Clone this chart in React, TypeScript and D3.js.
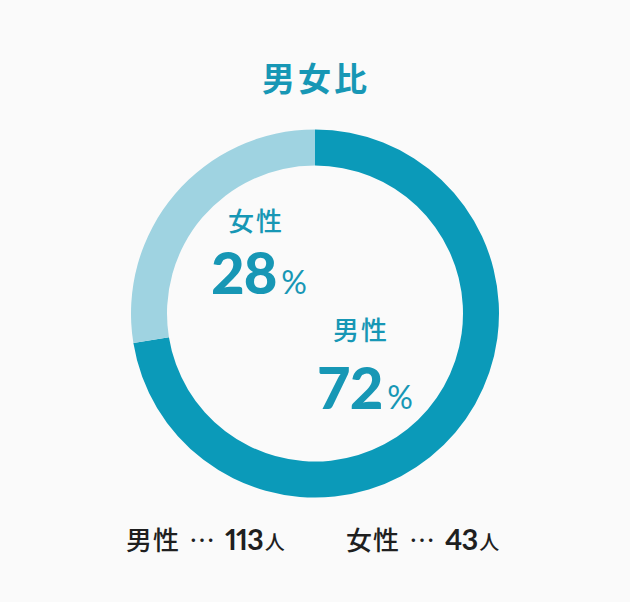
import React, { useEffect, useRef } from 'react';
import * as d3 from 'd3';

const categories = ['男性', '女性'];
const counts = [113, 43];
const percents = [72, 28];
const colors = ['#0b9ab9', '#9fd3e1'];
const title = '男女比';

const W = 630;
const H = 602;
const CJK = '"Noto Sans CJK JP", "Noto Sans", sans-serif';
const NUM = 'Lato, "Noto Sans", sans-serif';

export default function App() {
  const svgRef = useRef<SVGSVGElement>(null);

  useEffect(() => {
    if (!svgRef.current) return;
    const svg = d3.select(svgRef.current);
    svg.selectAll('*').remove();

    svg.append('rect').attr('width', W).attr('height', H).attr('fill', '#fafafa');

    // title
    svg.append('text')
      .attr('x', W / 2 + 1)
      .attr('y', 91)
      .attr('text-anchor', 'middle')
      .style('font-family', CJK)
      .style('font-size', '33px')
      .style('font-weight', 700)
      .style('letter-spacing', '3px')
      .style('fill', '#1797b5')
      .text(title);

    const cx = 315;
    const cy = 313.5;
    const outer = 184;
    const inner = 148;

    const pie = d3.pie<number>().sort(null).value(d => d);
    const arcs = pie(counts);
    const arc = d3.arc<d3.PieArcDatum<number>>().innerRadius(inner).outerRadius(outer);

    const g = svg.append('g').attr('transform', `translate(${cx},${cy})`);
    g.selectAll('path')
      .data(arcs)
      .enter()
      .append('path')
      .attr('d', arc)
      .attr('fill', (_, i) => colors[i]);

    // inner labels
    const labelPos = [
      { x: 333, y: 340, nx: 317, ny: 409 },
      { x: 228, y: 231, nx: 211, ny: 294 },
    ];
    categories.forEach((c, i) => {
      const p = labelPos[i];
      svg.append('text')
        .attr('x', p.x)
        .attr('y', p.y)
        .style('font-family', CJK)
        .style('font-size', '26px')
        .style('font-weight', 500)
        .style('letter-spacing', '2px')
        .style('fill', '#1797b5')
        .text(c);
      const t = svg.append('text')
        .attr('x', p.nx)
        .attr('y', p.ny)
        .style('fill', '#1797b5');
      t.append('tspan')
        .style('font-family', NUM)
        .style('font-size', '58px')
        .style('font-weight', 900)
        .style('letter-spacing', '-1px')
        .text(String(percents[i]));
      t.append('tspan')
        .attr('dx', 5)
        .style('font-family', NUM)
        .style('font-size', '32px')
        .style('font-weight', 400)
        .text('%');
    });

    // bottom legend
    const legendX = [126, 346];
    categories.forEach((c, i) => {
      const t = svg.append('text')
        .attr('x', legendX[i])
        .attr('y', 550)
        .style('fill', '#1f1f1f');
      t.append('tspan')
        .style('font-family', CJK)
        .style('font-size', '26px')
        .style('font-weight', 500)
        .style('letter-spacing', '1px')
        .text(c);
      t.append('tspan')
        .attr('dx', 9)
        .style('font-family', CJK)
        .style('font-size', '26px')
        .text('…');
      t.append('tspan')
        .attr('dx', 10)
        .style('font-family', NUM)
        .style('font-size', '29px')
        .style('font-weight', 700)
        .style('font-variant-numeric', 'proportional-nums')
        .style('font-feature-settings', '"pnum" 1')
        .style('letter-spacing', '-1px')
        .text(String(counts[i]));
      t.append('tspan')
        .attr('dx', 2)
        .style('font-family', CJK)
        .style('font-size', '20px')
        .style('font-weight', 500)
        .text('人');
    });
  }, []);

  return (
    <div style={{ position: 'absolute', left: 0, top: 0 }}>
      <svg ref={svgRef} width={W} height={H} style={{ display: 'block' }} />
    </div>
  );
}
